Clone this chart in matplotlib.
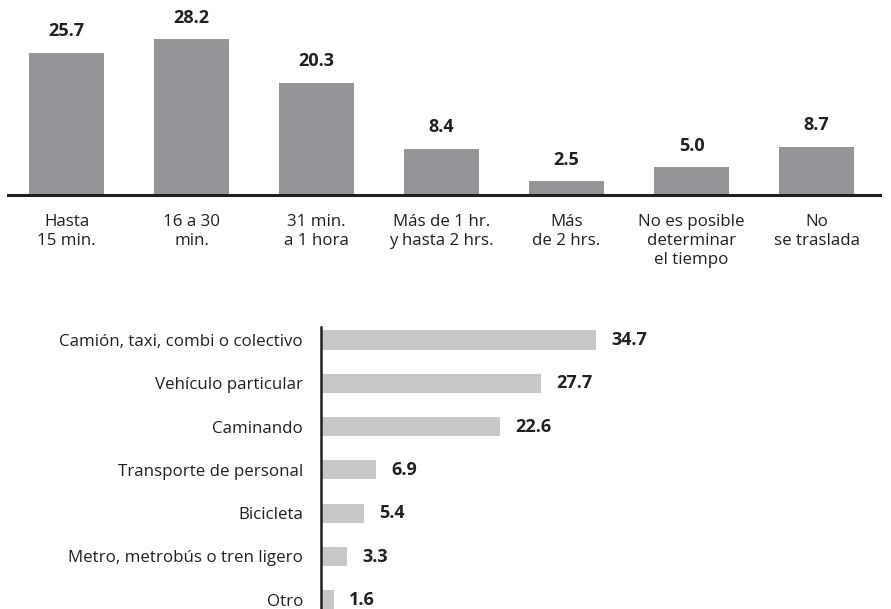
import matplotlib.pyplot as plt

plt.rcParams['font.family'] = ['Open Sans', 'DejaVu Sans']

# Tiempo de traslado
tiempo_cats = ['Hasta\n15 min.', '16 a 30\nmin.', '31 min.\na 1 hora',
               'Más de 1 hr.\ny hasta 2 hrs.', 'Más\nde 2 hrs.',
               'No es posible\ndeterminar\nel tiempo', 'No\nse traslada']
tiempo_vals = [25.7, 28.2, 20.3, 8.4, 2.5, 5.0, 8.7]

# Medio de transporte
medio_cats = ['Camión, taxi, combi o colectivo', 'Vehículo particular', 'Caminando',
              'Transporte de personal', 'Bicicleta', 'Metro, metrobús o tren ligero', 'Otro']
medio_vals = [34.7, 27.7, 22.6, 6.9, 5.4, 3.3, 1.6]

W, H = 891, 609
fig = plt.figure(figsize=(W / 100, H / 100), dpi=100)
ink = '#231f20'

# --- barras verticales ---
ax1 = fig.add_axes([8 / W, (H - 195) / H, (880 - 8) / W, 195 / H])
x = range(len(tiempo_vals))
ax1.bar(x, tiempo_vals, width=0.6, color='#939598', zorder=2)
ax1.set_xlim(-0.468, 6.508)
ax1.set_ylim(0, 195 / 5.53)
for i, v in enumerate(tiempo_vals):
    ax1.annotate(f'{v:.1f}', (i, v), xytext=(0, 9), textcoords='offset points',
                 ha='center', va='bottom', fontsize=13, fontweight='bold', color=ink)
for s in ['top', 'right', 'left']:
    ax1.spines[s].set_visible(False)
ax1.spines['bottom'].set_color(ink)
ax1.spines['bottom'].set_linewidth(2.2)
ax1.set_yticks([])
ax1.set_xticks(list(x))
ax1.set_xticklabels(tiempo_cats, fontsize=12.2, color=ink, linespacing=1.22)
ax1.tick_params(axis='x', length=0, pad=14)

# --- barras horizontales ---
ax2 = fig.add_axes([321 / W, 0, (W - 321) / W, (H - 327) / H])
y = range(len(medio_vals))
ax2.barh(y, medio_vals, height=0.44, color='#c7c8ca', zorder=2)
ax2.set_xlim(0, (W - 321) / 7.93)
ax2.set_ylim((609 - 340) / 43.3, (327 - 340) / 43.3)
for i, v in enumerate(medio_vals):
    ax2.annotate(f'{v:.1f}', (v, i), xytext=(11, 0), textcoords='offset points',
                 ha='left', va='center', fontsize=13, fontweight='bold', color=ink)
for s in ['top', 'right', 'bottom']:
    ax2.spines[s].set_visible(False)
ax2.spines['left'].set_color(ink)
ax2.spines['left'].set_linewidth(1.8)
ax2.set_xticks([])
ax2.set_yticks(list(y))
ax2.set_yticklabels(medio_cats, fontsize=12.2, color=ink)
ax2.tick_params(axis='y', length=0, pad=13)

fig.savefig('out.png', dpi=100)
